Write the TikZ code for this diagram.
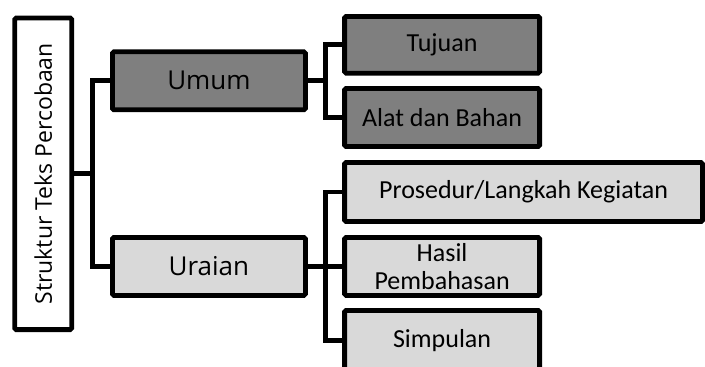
\documentclass[tikz,border=0pt]{standalone}
\usepackage{fontspec}
\newfontfamily\opensans{Open Sans}
\newfontfamily\carlito{Carlito}
\definecolor{darkfill}{HTML}{7F7F7F}
\definecolor{lightfill}{HTML}{D9D9D9}
\tikzset{
	box/.style={draw, line width=4.8pt, rounded corners=1.5pt, inner sep=0pt, minimum height=58pt},
	leftbox/.style={box, minimum width=193pt, font=\opensans\fontsize{26}{30}\selectfont},
	rightbox/.style={box, minimum width=195pt, align=center, font=\carlito\fontsize{26}{28}\selectfont},
	conn/.style={line width=4.8pt}
}
\begin{document}
\begin{tikzpicture}[x=1pt,y=-1pt]
	\useasboundingbox (0,0) rectangle (705,367);
	\node [box, rotate=90, minimum width=311.6pt, minimum height=57pt, font=\opensans\fontsize{23}{27}\selectfont] (root) at (43.2,173.8) {Struktur Teks Percobaan};
	\node [leftbox, fill=darkfill] (umum) at (208.9,80.8) {Umum};
	\node [leftbox, fill=lightfill] (uraian) at (208.9,266.4) {Uraian};
	\node [rightbox, fill=darkfill, minimum height=56.7pt] (tujuan) at (442.1,44.8) {Tujuan};
	\node [rightbox, fill=darkfill] (alat) at (442.1,117.5) {Alat dan Bahan};
	\node [rightbox, fill=lightfill, minimum width=358pt, minimum height=59pt] (prosedur) at (523.6,192) {Prosedur/Langkah Kegiatan};
	\node [rightbox, fill=lightfill] (hasil) at (442.1,266.4) {Hasil\\Pembahasan};
	\node [rightbox, fill=lightfill, minimum height=60pt] (simpulan) at (442.1,340.4) {Simpulan};
	\coordinate (rootj) at (92.5,173.8);
	\coordinate (umumj) at (325.5,80.8);
	\coordinate (uraianj) at (325.5,266.4);
	\draw [conn] (root.south) -- (rootj);
	\draw [conn] (umum.west) -| (rootj) |- (uraian.west);
	\draw [conn] (umum.east) -- (umumj);
	\draw [conn] (tujuan.west) -| (umumj) |- (alat.west);
	\draw [conn] (uraian.east) -- (uraianj);
	\draw [conn] (prosedur.west) -| (uraianj) |- (simpulan.west);
	\draw [conn] (uraianj) -- (hasil.west);
\end{tikzpicture}
\end{document}
